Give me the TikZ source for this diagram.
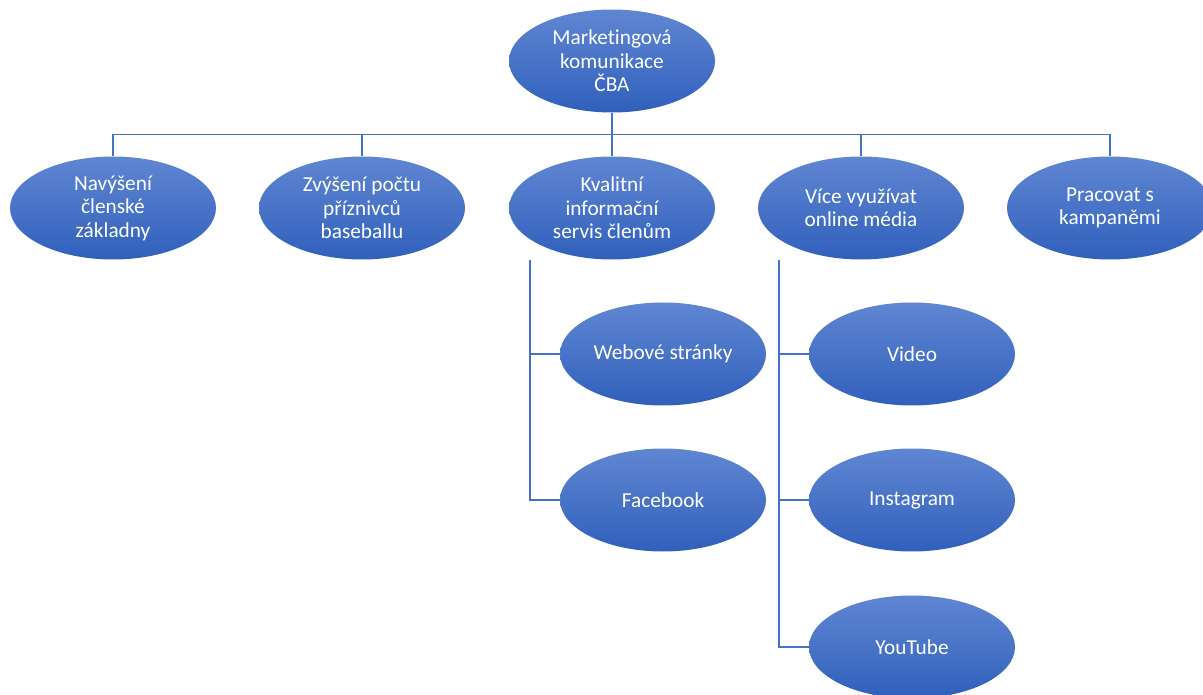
\documentclass[tikz,border=0pt]{standalone}
\usepackage{fontspec}
\setmainfont{Carlito}[Ligatures={NoCommon}]
\usetikzlibrary{shapes.geometric,backgrounds}
\definecolor{topc}{RGB}{96,134,210}
\definecolor{botc}{RGB}{48,96,188}
\definecolor{linec}{RGB}{68,114,196}
\begin{document}
\begin{tikzpicture}[x=1pt,y=-1pt,
  bubble/.style={ellipse, minimum width=206pt, minimum height=103pt, inner sep=0pt,
    top color=topc, bottom color=botc, draw=none, text=white, align=center,
    font=\fontsize{21.3}{23.5}\selectfont},
  conn/.style={draw=linec, line width=1.2pt}]
\useasboundingbox (0,0) rectangle (1203,695);
% nodes
\node[bubble] (root) at (612,61) {Marketingová\\komunikace\\ČBA};
\node[bubble] (a) at (113,208) {Navýšení\\členské\\základny};
\node[bubble] (b) at (362,208) {Zvýšení počtu\\příznivců\\baseballu};
\node[bubble] (c) at (612,208) {Kvalitní\\informační\\servis členům};
\node[bubble] (d) at (861,208) {Více využívat\\online média};
\node[bubble] (e) at (1110,208) {Pracovat s\\kampaněmi};
\node[bubble] (web) at (663,354) {Webové stránky};
\node[bubble] (fb) at (663,500) {Facebook};
\node[bubble] (vid) at (912,354) {Video};
\node[bubble] (ig) at (912,500) {Instagram};
\node[bubble] (yt) at (912,647) {YouTube};
\coordinate (cs) at (530,260);
\coordinate (ds) at (779,260);
% connectors (behind)
\begin{scope}[on background layer]
\foreach \n in {a,b,c,d,e}{
  \draw[conn] (root.south) -- ++(0,22) -| (\n.north);
}
\draw[conn] (cs) |- (web.west);
\draw[conn] (cs) |- (fb.west);
\draw[conn] (ds) |- (vid.west);
\draw[conn] (ds) |- (ig.west);
\draw[conn] (ds) |- (yt.west);
\end{scope}
\end{tikzpicture}
\end{document}
